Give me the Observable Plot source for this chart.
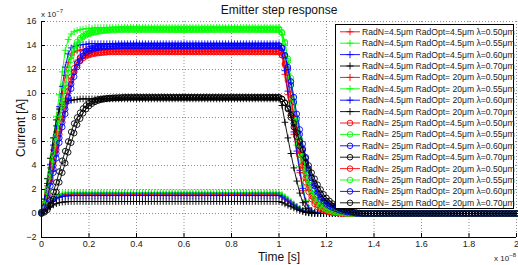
<!DOCTYPE html>
<html><head><meta charset="utf-8">
<script src="https://cdn.jsdelivr.net/npm/d3@7"></script>
<script src="https://cdn.jsdelivr.net/npm/@observablehq/plot@0.6"></script>
<style>body{margin:0;background:#fff} svg{display:block}</style>
</head><body><div id="chart"></div>
<script>
// ---- data (time in units of 1e-8 s, current in units of 1e-7 A) ----
const timeStep = 0.0125;          // sample spacing of the simulation output
const sampleCount = 161;          // 0 .. 2 (x 1e-8 s)
const stepOffTime = 1.0;          // input step ends at t = 1 (x 1e-8 s)
const xTicks = [0, 0.2, 0.4, 0.6, 0.8, 1, 1.2, 1.4, 1.6, 1.8, 2];
const yTicks = [-2, 0, 2, 4, 6, 8, 10, 12, 14, 16];

const legendLabels = [
  "RadN=4.5μm RadOpt=4.5μm λ=0.50μm",
  "RadN=4.5μm RadOpt=4.5μm λ=0.55μm",
  "RadN=4.5μm RadOpt=4.5μm λ=0.60μm",
  "RadN=4.5μm RadOpt=4.5μm λ=0.70μm",
  "RadN=4.5μm RadOpt= 20μm λ=0.50μm",
  "RadN=4.5μm RadOpt= 20μm λ=0.55μm",
  "RadN=4.5μm RadOpt= 20μm λ=0.60μm",
  "RadN=4.5μm RadOpt= 20μm λ=0.70μm",
  "RadN= 25μm RadOpt=4.5μm λ=0.50μm",
  "RadN= 25μm RadOpt=4.5μm λ=0.55μm",
  "RadN= 25μm RadOpt=4.5μm λ=0.60μm",
  "RadN= 25μm RadOpt=4.5μm λ=0.70μm",
  "RadN= 25μm RadOpt= 20μm λ=0.50μm",
  "RadN= 25μm RadOpt= 20μm λ=0.55μm",
  "RadN= 25μm RadOpt= 20μm λ=0.60μm",
  "RadN= 25μm RadOpt= 20μm λ=0.70μm"
];
const seriesColors = ["#ff0000","#00ff00","#0000ff","#000000","#ff0000","#00ff00","#0000ff","#000000",
                      "#ff0000","#00ff00","#0000ff","#000000","#ff0000","#00ff00","#0000ff","#000000"];
const seriesSymbols = ["plus","plus","plus","plus","plus","plus","plus","plus",
                       "circle","circle","circle","circle","circle","circle","circle","circle"];

// plateau current of each series while the step is on
const plateau = [1.62, 1.75, 1.5, 1.0, 13.75, 15.5, 14.15, 9.55,
                 13.5, 15.4, 14.0, 9.7, 13.45, 15.3, 13.95, 9.65];

// rising edge, samples from t = 0
const riseValues = [
  [0.05,0.3,0.62,0.9,1.13,1.32,1.45,1.53,1.57,1.6,1.61],
  [0.05,0.35,0.7,1.0,1.25,1.45,1.58,1.66,1.7,1.72,1.74],
  [0.05,0.28,0.57,0.84,1.05,1.22,1.34,1.42,1.46,1.48,1.49],
  [0.03,0.2,0.4,0.57,0.71,0.82,0.9,0.95,0.97,0.99],
  [0.1,0.9,2.3,3.8,5.3,6.8,8.4,10.0,11.5,12.6,13.2,13.45,13.55,13.62,13.67,13.7],
  [0.1,1.2,2.9,4.6,6.3,8.1,9.9,11.8,13.6,14.5,14.95,15.15,15.25,15.32,15.37,15.4,15.42,15.44],
  [0.1,1.0,2.5,4.1,5.7,7.3,8.9,10.6,12.2,13.3,13.8,13.95,14.0,14.05,14.08,14.1],
  [0.1,1.2,2.9,4.6,6.3,7.8,8.7,9.1,9.3,9.38,9.43,9.47,9.5],
  [0.1,0.7,1.8,3.0,4.3,5.6,6.9,8.2,9.4,10.5,11.4,12.1,12.6,12.9,13.1,13.22,13.3,13.35,13.39,13.42,13.44,13.46,13.47,13.48],
  [0.1,0.8,2.0,3.4,4.9,6.4,7.9,9.4,10.8,12.1,13.1,13.8,14.3,14.6,14.8,14.95,15.05,15.12,15.18,15.22,15.26,15.29,15.31,15.33,15.35,15.36,15.37,15.38],
  [0.1,0.6,1.5,2.6,3.7,5.0,6.3,7.6,8.7,9.7,10.8,11.8,12.5,13.0,13.35,13.55,13.7,13.78,13.84,13.88,13.91,13.93,13.95,13.96,13.97,13.98],
  [0.0,0.2,0.5,1.1,1.8,2.6,3.5,4.4,5.2,6.0,6.8,7.5,8.0,8.4,8.75,9.0,9.2,9.33,9.43,9.5,9.55,9.58,9.61,9.63,9.65,9.66,9.67,9.68],
  [0.1,0.6,1.6,2.8,4.0,5.3,6.6,7.9,9.1,10.2,11.1,11.8,12.35,12.7,12.95,13.1,13.2,13.27,13.32,13.36,13.39,13.41,13.43],
  [0.1,0.7,1.8,3.1,4.5,6.0,7.5,9.0,10.4,11.7,12.8,13.6,14.1,14.45,14.7,14.85,14.96,15.04,15.1,15.15,15.19,15.22,15.24,15.26,15.27,15.28],
  [0.1,0.5,1.3,2.3,3.4,4.6,5.9,7.2,8.3,9.4,10.4,11.4,12.2,12.75,13.15,13.4,13.56,13.67,13.75,13.8,13.84,13.87,13.89,13.91,13.92,13.93],
  [0.0,0.1,0.3,0.7,1.2,1.8,2.6,3.4,4.2,5.1,5.9,6.7,7.4,7.9,8.35,8.7,8.95,9.15,9.3,9.4,9.47,9.52,9.56,9.59,9.61,9.62,9.63,9.64]
];

// falling edge, samples from t = 1 (x 1e-8 s); zero afterwards
const fallValues = [
  [1.62,1.48,1.3,1.11,0.92,0.74,0.56,0.39,0.25,0.14,0.07,0.04,0.02],
  [1.75,1.6,1.4,1.2,1.0,0.8,0.6,0.42,0.27,0.15,0.08,0.04,0.02],
  [1.5,1.37,1.2,1.03,0.86,0.69,0.52,0.36,0.23,0.13,0.07,0.03,0.01],
  [1.0,0.92,0.8,0.69,0.57,0.46,0.35,0.24,0.15,0.09,0.05,0.02,0.01],
  [13.75,13.2,11.6,9.9,8.2,6.6,5.0,3.4,1.9,0.9,0.4,0.2,0.1,0.05],
  [15.5,14.9,13.1,11.2,9.3,7.5,5.7,3.9,2.3,1.1,0.5,0.25,0.12,0.05],
  [14.15,13.6,11.9,10.2,8.5,6.8,5.2,3.6,2.1,1.0,0.45,0.22,0.1,0.05],
  [9.55,9.0,7.6,6.3,5.0,3.8,2.7,1.7,0.9,0.4,0.2,0.1,0.05],
  [13.5,13.2,12.4,11.1,9.6,8.0,6.4,4.9,3.6,2.6,1.8,1.2,0.8,0.55,0.37,0.25,0.17,0.11,0.07,0.05,0.03],
  [15.4,15.1,14.2,12.7,11.0,9.2,7.4,5.8,4.4,3.3,2.4,1.7,1.2,0.85,0.6,0.42,0.3,0.2,0.14,0.1,0.07,0.05,0.03],
  [14.0,13.8,13.1,12.0,10.7,9.3,7.9,6.6,5.4,4.3,3.4,2.6,2.0,1.5,1.15,0.9,0.7,0.55,0.42,0.32,0.25,0.19,0.14,0.1,0.07,0.05],
  [9.7,9.55,9.2,8.7,8.0,7.2,6.4,5.6,4.9,4.2,3.6,3.0,2.5,2.05,1.65,1.3,1.05,0.82,0.64,0.5,0.38,0.29,0.22,0.16,0.12,0.08,0.05],
  [13.45,13.2,12.5,11.3,9.9,8.3,6.8,5.3,4.0,2.95,2.1,1.45,1.0,0.7,0.48,0.33,0.22,0.15,0.1,0.06,0.04],
  [15.3,15.05,14.3,12.9,11.3,9.6,7.8,6.2,4.8,3.6,2.7,1.95,1.4,1.0,0.72,0.5,0.36,0.25,0.18,0.12,0.08,0.05,0.03],
  [13.95,13.8,13.2,12.2,11.0,9.7,8.3,7.0,5.8,4.7,3.75,2.95,2.3,1.75,1.35,1.05,0.82,0.64,0.5,0.39,0.3,0.23,0.17,0.12,0.09,0.06],
  [9.65,9.55,9.25,8.8,8.2,7.5,6.75,6.0,5.3,4.6,4.0,3.4,2.9,2.4,2.0,1.6,1.3,1.05,0.83,0.65,0.5,0.39,0.3,0.23,0.17,0.12,0.08,0.05]
];

// ---- build table ----
const stepOffIndex = Math.round(stepOffTime / timeStep);
const series = riseValues.map((rise, s) => {
  const fall = fallValues[s];
  const pts = [];
  for (let k = 0; k < sampleCount; k++) {
    let v;
    if (k < rise.length) v = rise[k];
    else if (k < stepOffIndex) v = plateau[s];
    else if (k - stepOffIndex < fall.length) v = fall[k - stepOffIndex];
    else v = 0;
    pts.push({t: k * timeStep, v});
  }
  return pts;
});

const FONT = "'Liberation Sans', Arial, Helvetica, sans-serif";
const marks = [
  Plot.gridX(xTicks.filter(d => d > 0), {stroke: "#000", strokeOpacity: 0.55, strokeDasharray: "1,2", strokeWidth: 0.8}),
  Plot.gridY(yTicks.filter(d => d > -2), {stroke: "#000", strokeOpacity: 0.55, strokeDasharray: "1,2", strokeWidth: 0.8})
];
series.forEach((pts, s) => {
  marks.push(Plot.line(pts, {x: "t", y: "v", stroke: seriesColors[s], strokeWidth: 0.9}));
  marks.push(Plot.dot(pts, {x: "t", y: "v", symbol: seriesSymbols[s], r: seriesSymbols[s] === "plus" ? 2.3 : 2.8,
    stroke: seriesColors[s], fill: "none", strokeWidth: 0.9}));
});
marks.push(
  Plot.ruleX([0], {stroke: "#000", strokeWidth: 1}),
  Plot.ruleY([-2], {stroke: "#000", strokeWidth: 1}),
  Plot.ruleX(xTicks, {x: d => d, y1: -2, y2: -2 + 0.33, stroke: "#000"}),
  Plot.ruleY(yTicks, {y: d => d, x1: 0, x2: 0.017, stroke: "#000"}),
  Plot.axisX(xTicks, {anchor: "bottom", tickSize: 0, tickPadding: 3, fontSize: 9, tickFormat: d => String(d), fill: "#222"}),
  Plot.axisY(yTicks, {anchor: "left", tickSize: 0, tickPadding: 5, fontSize: 9, tickFormat: d => d < 0 ? "\u2212" + (-d) : String(d), fill: "#222"})
);

const plot = Plot.plot({
  width: 518, height: 265,
  marginLeft: 41, marginRight: 2, marginTop: 21, marginBottom: 28,
  x: {domain: [0, 2], label: null},
  y: {domain: [-2, 16], label: null},
  style: {fontFamily: FONT, background: "#fff", overflow: "visible"},
  marks
});
document.getElementById("chart").appendChild(plot);

const svg = d3.select(plot);
// title & axis labels
svg.append("text").attr("x", 279).attr("y", 14).attr("text-anchor", "middle")
  .attr("font-size", 12).attr("font-family", FONT).attr("fill", "#111").text("Emitter step response");
svg.append("text").attr("x", 279).attr("y", 261).attr("text-anchor", "middle")
  .attr("font-size", 12).attr("font-family", FONT).attr("fill", "#111").text("Time [s]");
svg.append("text").attr("transform", "translate(25,128) rotate(-90)").attr("text-anchor", "middle")
  .attr("font-size", 12).attr("font-family", FONT).attr("fill", "#111").text("Current [A]");
// exponent labels
function expo(x, y, p) {
  const t = svg.append("text").attr("x", x).attr("y", y).attr("text-anchor", "start")
    .attr("font-size", 8).attr("font-family", FONT).attr("fill", "#222");
  t.append("tspan").text("x 10");
  t.append("tspan").attr("dy", -4).attr("font-size", 6).text(p);
}
expo(41, 17, "\u22127");
expo(494, 261, "\u22128");

// legend
const lg = svg.append("g").attr("font-family", FONT).attr("text-anchor", "start");
lg.append("rect").attr("x", 335.5).attr("y", 24.5).attr("width", 178).attr("height", 184)
  .attr("fill", "#fff").attr("stroke", "#000").attr("stroke-width", 1);
legendLabels.forEach((lab, i) => {
  const y = 31.8 + i * 11.4;
  const c = seriesColors[i];
  lg.append("line").attr("x1", 340).attr("x2", 360).attr("y1", y).attr("y2", y).attr("stroke", c).attr("stroke-width", 0.9);
  if (seriesSymbols[i] === "plus") {
    lg.append("path").attr("d", `M${346.5},${y}h7M350,${y - 3.5}v7`).attr("stroke", c).attr("stroke-width", 0.9).attr("fill", "none");
  } else {
    lg.append("circle").attr("cx", 350).attr("cy", y).attr("r", 2.8).attr("stroke", c).attr("stroke-width", 0.9).attr("fill", "none");
  }
  lg.append("text").attr("x", 362).attr("y", y + 3).attr("text-anchor", "start")
    .attr("font-size", 8.6).attr("fill", "#222").text(lab);
});
</script></body></html>
